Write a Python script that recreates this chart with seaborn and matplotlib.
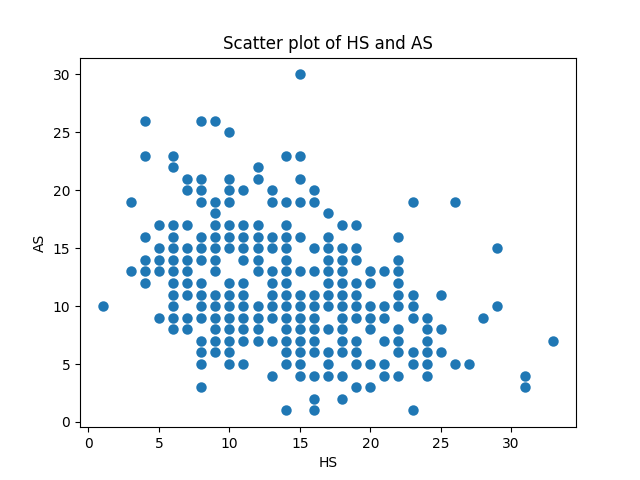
import matplotlib
matplotlib.use("Agg")
import matplotlib.pyplot as plt
import seaborn as sns
import pandas as pd

hs_values = [
    1,
    3, 3,
    4, 4, 4, 4, 4, 4,
    5, 5, 5, 5, 5,
    6, 6, 6, 6, 6, 6, 6, 6, 6, 6, 6, 6,
    7, 7, 7, 7, 7, 7, 7, 7, 7, 7,
    8, 8, 8, 8, 8, 8, 8, 8, 8, 8, 8, 8, 8, 8, 8,
    9, 9, 9, 9, 9, 9, 9, 9, 9, 9, 9, 9, 9, 9,
    10, 10, 10, 10, 10, 10, 10, 10, 10, 10, 10, 10, 10, 10, 10,
    11, 11, 11, 11, 11, 11, 11, 11, 11, 11, 11, 11,
    12, 12, 12, 12, 12, 12, 12, 12, 12, 12, 12,
    13, 13, 13, 13, 13, 13, 13, 13, 13, 13, 13,
    14, 14, 14, 14, 14, 14, 14, 14, 14, 14, 14, 14, 14, 14, 14, 14,
    15, 15, 15, 15, 15, 15, 15, 15, 15, 15, 15, 15, 15, 15,
    16, 16, 16, 16, 16, 16, 16, 16, 16, 16, 16, 16, 16,
    17, 17, 17, 17, 17, 17, 17, 17, 17, 17, 17, 17,
    18, 18, 18, 18, 18, 18, 18, 18, 18, 18, 18, 18, 18,
    19, 19, 19, 19, 19, 19, 19, 19, 19, 19, 19,
    20, 20, 20, 20, 20, 20, 20,
    21, 21, 21, 21, 21, 21,
    22, 22, 22, 22, 22, 22, 22, 22, 22, 22,
    23, 23, 23, 23, 23, 23, 23,
    24, 24, 24, 24, 24, 24,
    25, 25, 25,
    26, 26,
    27,
    28,
    29, 29,
    31, 31,
    33,
]

as_values = [
    10,
    19, 13,
    26, 23, 16, 14, 13, 12,
    17, 15, 14, 13, 9,
    23, 22, 17, 16, 15, 14, 13, 12, 11, 10, 9, 8,
    21, 20, 17, 15, 14, 13, 12, 11, 9, 8,
    26, 21, 20, 19, 16, 15, 14, 12, 11, 10, 9, 7, 6, 5, 3,
    26, 19, 18, 17, 16, 15, 14, 13, 11, 10, 9, 8, 7, 6,
    25, 21, 20, 19, 17, 16, 15, 12, 11, 10, 9, 8, 7, 6, 5,
    20, 17, 16, 15, 14, 12, 11, 10, 9, 8, 7, 5,
    22, 21, 17, 16, 15, 14, 13, 10, 9, 8, 7,
    20, 19, 16, 15, 13, 12, 11, 10, 9, 7, 4,
    23, 19, 17, 16, 15, 14, 13, 12, 11, 10, 9, 8, 7, 6, 5, 1,
    30, 23, 21, 19, 16, 13, 11, 10, 9, 8, 7, 6, 5, 4,
    20, 19, 15, 13, 11, 10, 9, 8, 7, 6, 4, 2, 1,
    18, 16, 15, 14, 13, 12, 11, 10, 8, 6, 5, 4,
    17, 15, 14, 13, 12, 11, 10, 9, 8, 7, 6, 4, 2,
    17, 15, 14, 12, 11, 10, 9, 7, 6, 5, 3,
    13, 12, 10, 9, 8, 5, 3,
    13, 10, 9, 7, 5, 4,
    16, 14, 13, 12, 11, 10, 8, 7, 6, 4,
    19, 11, 10, 9, 6, 5, 1,
    9, 8, 7, 6, 5, 4,
    11, 8, 6,
    19, 5,
    5,
    9,
    15, 10,
    4, 3,
    7,
]

df = pd.DataFrame({"HS": hs_values, "AS": as_values})

fig, ax = plt.subplots(figsize=(6.4, 4.8), dpi=100)
sns.scatterplot(data=df, x="HS", y="AS", ax=ax, s=36, color="#1f77b4",
                linewidth=1.5, edgecolor="#1f77b4")
ax.set_title("Scatter plot of HS and AS")
ax.set_xlabel("HS")
ax.set_ylabel("AS")
fig.savefig("out.png", dpi=100)
